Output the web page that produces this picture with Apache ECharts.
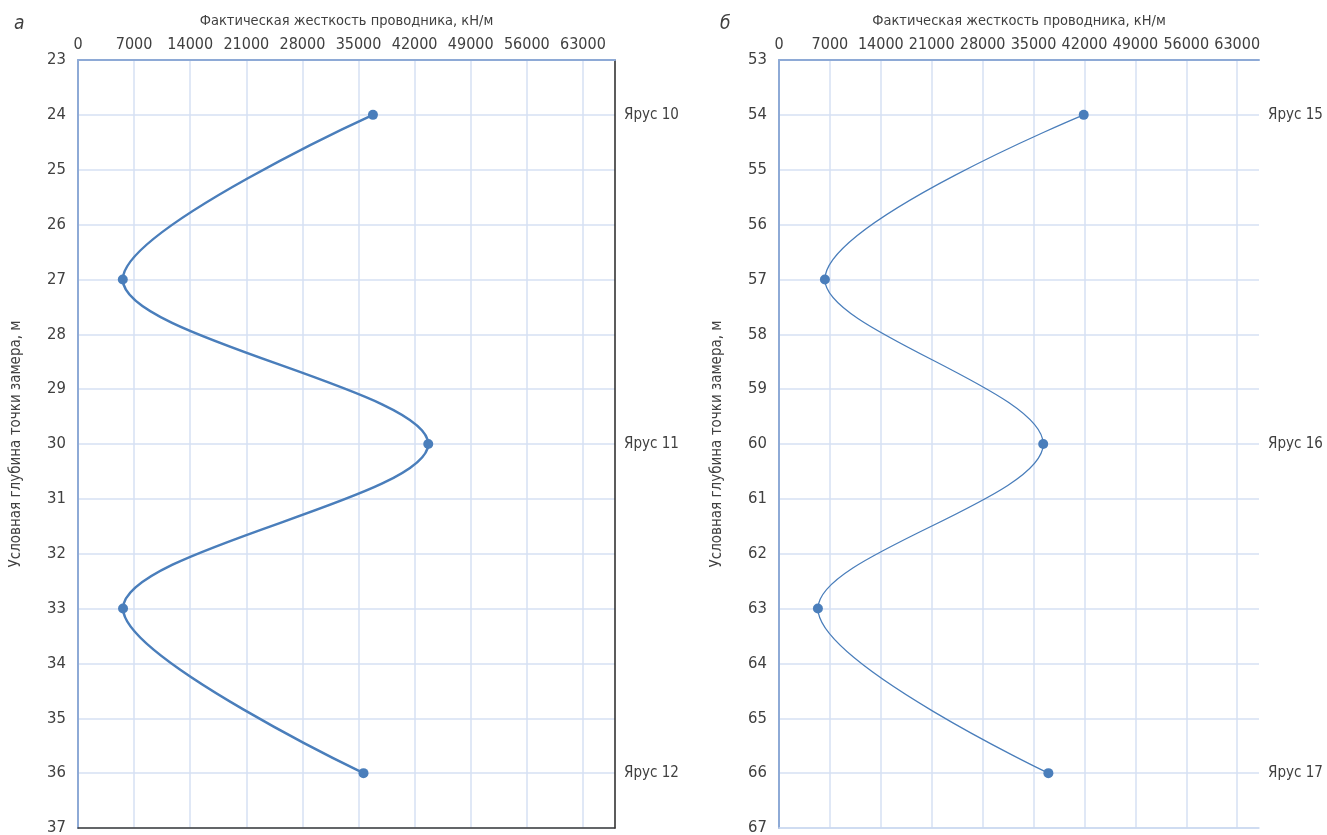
<!DOCTYPE html>
<html>
<head>
<meta charset="utf-8">
<script src="https://cdn.jsdelivr.net/npm/echarts@6/dist/echarts.min.js"></script>
<style>
html,body{margin:0;padding:0;background:#fff;}
#chart{width:1327px;height:835px;}
</style>
</head>
<body>
<div id="chart"></div>
<script>
// ---- data ----
const xTitle = 'Фактическая жесткость проводника, кН/м';
const yTitle = 'Условная глубина точки замера, м';
const panelLabels = ['а', 'б'];

// Panel а
const depthA = [24, 27, 30, 33, 36];
const stiffA = [36800, 5590, 43700, 5620, 35620];
const tierDepthsA = [24, 30, 36];
const tierLabelsA = ['Ярус 10', 'Ярус 11', 'Ярус 12'];

// Panel б
const depthB = [54, 57, 60, 63, 66];
const stiffB = [41900, 6310, 36330, 5350, 37040];
const tierDepthsB = [54, 60, 66];
const tierLabelsB = ['Ярус 15', 'Ярус 16', 'Ярус 17'];

// ---- chart ----
const FONT = "'Liberation Sans Narrow', 'DejaVu Sans Condensed', 'Roboto', sans-serif";
const TXT = '#404040';
const GRIDC = '#d6e1f3';
const AXISBLUE = '#8eaad6';
const LINEC = '#4a7ebb';

function pairs(xs, ys) { return xs.map((v, i) => [v, ys[i]]); }
function tierFormatter(depths, labels) {
  return function (v) {
    const i = depths.indexOf(Math.round(v));
    return (i >= 0 && Math.abs(v - depths[i]) < 1e-6) ? labels[i] : '';
  };
}

function topX(gridIndex, max) {
  return {
    gridIndex: gridIndex, type: 'value', position: 'top',
    min: 0, max: max, interval: 7000,
    name: xTitle, nameLocation: 'middle', nameGap: 31,
    nameTextStyle: { fontFamily: FONT, fontSize: 14.5, color: TXT },
    axisLine: { show: true, onZero: false, lineStyle: { color: AXISBLUE, width: 2 } },
    axisTick: { show: false },
    axisLabel: { fontFamily: FONT, fontSize: 16, color: TXT, margin: 7, showMaxLabel: false,
      formatter: v => (v % 7000 === 0 ? String(v) : '') },
    splitLine: { show: true, showMaxLine: false, lineStyle: { color: GRIDC, width: 1.5 } }
  };
}
function bottomX(gridIndex, max, color, width) {
  return {
    gridIndex: gridIndex, type: 'value', position: 'bottom',
    min: 0, max: max, interval: 7000,
    axisLine: { show: true, onZero: false, lineStyle: { color: color, width: width } },
    axisTick: { show: false }, axisLabel: { show: false }, splitLine: { show: false }
  };
}
function leftY(gridIndex, min, max) {
  return {
    gridIndex: gridIndex, type: 'value', position: 'left', inverse: true,
    min: min, max: max, interval: 1,
    name: yTitle, nameLocation: 'middle', nameGap: 54,
    nameTextStyle: { fontFamily: FONT, fontSize: 15, color: TXT },
    axisLine: { show: true, onZero: false, lineStyle: { color: AXISBLUE, width: 2 } },
    axisTick: { show: false },
    axisLabel: { fontFamily: FONT, fontSize: 16.5, color: TXT, margin: 12 },
    splitLine: { show: true, lineStyle: { color: GRIDC, width: 1.5 } }
  };
}
function rightY(gridIndex, min, max, depths, labels, showLine) {
  return {
    gridIndex: gridIndex, type: 'value', position: 'right', inverse: true,
    min: min, max: max, interval: 1,
    axisLine: { show: showLine, onZero: false, lineStyle: { color: '#262626', width: 1.5 } },
    axisTick: { show: false },
    axisLabel: { fontFamily: FONT, fontSize: 15, color: TXT, margin: 9,
      formatter: tierFormatter(depths, labels) },
    splitLine: { show: false }
  };
}

const chart = echarts.init(document.getElementById('chart'), null, { renderer: 'canvas' });
chart.setOption({
  backgroundColor: '#ffffff',
  animation: false,
  title: [
    { text: panelLabels[0], left: 9, top: 10, textStyle: { fontFamily: FONT, fontSize: 19, fontStyle: 'italic', fontWeight: 'normal', color: TXT } },
    { text: panelLabels[1], left: 715, top: 10, textStyle: { fontFamily: FONT, fontSize: 19, fontStyle: 'italic', fontWeight: 'normal', color: TXT } }
  ],
  grid: [
    { left: 78, top: 60, width: 537, height: 768, outerBoundsMode: 'none', containLabel: false },
    { left: 779, top: 60, width: 480, height: 768, outerBoundsMode: 'none', containLabel: false }
  ],
  xAxis: [
    topX(0, 67000),
    bottomX(0, 67000, '#3a3a3a', 1.5),
    topX(1, 66000),
    bottomX(1, 66000, '#c9d8f0', 1.5)
  ],
  yAxis: [
    leftY(0, 23, 37),
    rightY(0, 23, 37, tierDepthsA, tierLabelsA, true),
    leftY(1, 53, 67),
    rightY(1, 53, 67, tierDepthsB, tierLabelsB, false)
  ],
  series: [
    {
      type: 'line', xAxisIndex: 0, yAxisIndex: 0,
      data: pairs(stiffA, depthA), smooth: 0.33,
      symbol: 'circle', symbolSize: 10,
      lineStyle: { color: LINEC, width: 2.5 },
      itemStyle: { color: LINEC, borderWidth: 0 }
    },
    {
      type: 'line', xAxisIndex: 2, yAxisIndex: 2,
      data: pairs(stiffB, depthB), smooth: 0.33,
      symbol: 'circle', symbolSize: 10,
      lineStyle: { color: LINEC, width: 1.3 },
      itemStyle: { color: LINEC, borderWidth: 0 }
    }
  ]
});
</script>
</body>
</html>
